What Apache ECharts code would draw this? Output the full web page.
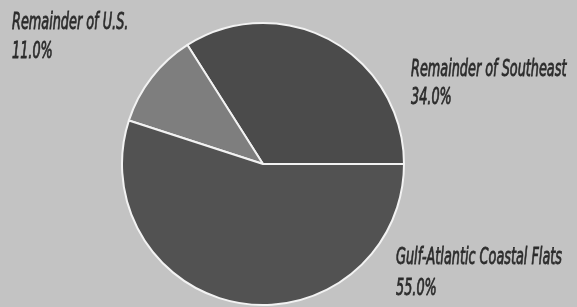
<!DOCTYPE html>
<html>
<head>
<meta charset="utf-8">
<script src="https://cdn.jsdelivr.net/npm/echarts@6/dist/echarts.min.js"></script>
<style>
  html, body { margin: 0; padding: 0; background: #c3c3c3; }
  #chart { width: 577px; height: 307px; }
</style>
</head>
<body>
<div id="chart"></div>
<script>
// slices, counter-clockwise from 3 o'clock
const names = ["Remainder of Southeast", "Remainder of U.S.", "Gulf-Atlantic Coastal Flats"];
const shares = [34.0, 11.0, 55.0];
const sliceColors = ["#4b4b4b", "#7e7e7e", "#525252"];

// label blocks: left x, top of name line, top of percent line
const labelSpots = [[411, 59, 87], [12, 12, 41], [396, 247, 278]];

const chart = echarts.init(document.getElementById("chart"));

// tall, squeezed italic text like the printed figure
const labelFont = "italic 23px 'DejaVu Sans Condensed', 'DejaVu Sans', sans-serif";
const labelTexts = [];
names.forEach((n, i) => {
  const s = labelSpots[i];
  const lines = [n, shares[i].toFixed(1) + "%"];
  lines.forEach((t, k) => {
    labelTexts.push({
      type: "text", x: s[0], y: s[k + 1], scaleX: 0.62,
      style: {
        text: t, font: labelFont, fill: "#2b2b2b",
        stroke: "#2b2b2b", lineWidth: 0.8,
        textAlign: "left", textVerticalAlign: "top",
      },
    });
  });
});

chart.setOption({
  backgroundColor: "#c3c3c3",
  animation: false,
  graphic: labelTexts,
  series: [
    {
      type: "pie",
      center: [263, 164],
      radius: 141,
      startAngle: 0,
      clockwise: false,
      data: names.map((n, i) => ({
        name: n,
        value: shares[i],
        itemStyle: { color: sliceColors[i] },
      })),
      itemStyle: { borderColor: "#f2f2f2", borderWidth: 2 },
      label: { show: false },
      labelLine: { show: false },
      emphasis: { disabled: true },
    },
  ],
});
</script>
</body>
</html>
